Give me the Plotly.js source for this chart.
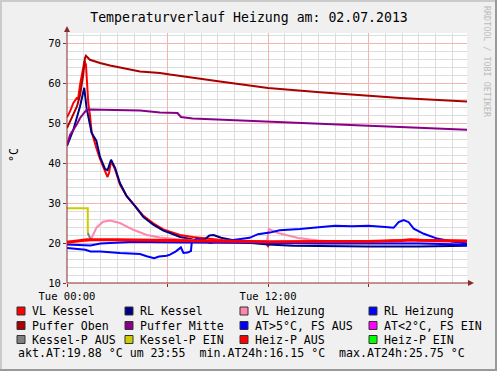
<!DOCTYPE html>
<html>
<head>
<meta charset="utf-8">
<script src="https://cdn.plot.ly/plotly-3.0.1.min.js"></script>
<style>html,body{margin:0;padding:0;background:#F0F0F0;}#chart{width:497px;height:371px;}</style>
</head>
<body>
<div id="chart"></div>
<script>
// ---- data (hours since Tue 00:00, °C) ----
const vlKesselH = [0, 0.18, 0.38, 0.58, 0.66, 0.78, 0.97, 1.04, 1.13, 1.22, 1.27, 1.37, 1.47, 1.77, 1.97, 2.27, 2.42, 2.51, 2.63, 2.87, 3.16, 3.56, 4.06, 4.56, 5.15, 5.75, 6.15, 6.75, 7.5, 8.5, 9.5, 11, 11.9, 12.0, 12.1, 13, 15, 18, 20, 21, 22, 23.88];
const vlKesselT = [51.4, 52.9, 55, 56.2, 56, 59.6, 63.8, 65.5, 64.6, 59, 55, 52, 47.8, 43.5, 41, 38, 36.5, 37.5, 40.5, 38.4, 34.6, 31.8, 29.3, 26.8, 24.9, 23.4, 22.8, 22, 21.5, 21, 20.6, 20.1, 19.8, 19.2, 19.9, 20.2, 20.3, 20.4, 20.7, 20.8, 20.6, 20.5];

const rlKesselH = [0, 0.38, 0.78, 1.03, 1.17, 1.47, 1.75, 1.97, 2.27, 2.42, 2.63, 2.87, 3.16, 3.56, 4.06, 4.56, 5.15, 5.75, 6.15, 6.75, 7.5, 8.2, 8.5, 8.75, 9.2, 10, 11, 12, 13.5, 15, 18, 21, 23.88];
const rlKesselT = [44.3, 48.3, 54.2, 58.8, 53.7, 47.5, 45.6, 41.5, 38.5, 38.2, 40.8, 38.8, 35, 31.7, 29.2, 26.5, 24.6, 23.1, 22.5, 21.5, 20.9, 20.8, 21.9, 22, 21.3, 20.6, 20, 19.6, 19.3, 19.2, 19.15, 19.15, 19.3];

const vlHeizungH = [0, 1.2, 1.4, 1.47, 1.77, 2.16, 2.57, 3.16, 3.96, 4.76, 5.55, 6.75, 8, 10, 11.95, 12.05, 12.6, 13.8, 15, 16, 18, 21, 23.88];
const vlHeizungT = [20.4, 20.5, 20.8, 21.25, 23.9, 25.3, 25.6, 25, 23.3, 22, 21.4, 20.9, 20.6, 20.5, 20.5, 23.5, 22.5, 21.25, 20.6, 20.4, 20.3, 20.4, 20.3];

const rlHeizungH = [0, 0.8, 1.4, 2, 4, 6, 8, 12, 15, 18, 21, 23, 23.88];
const rlHeizungT = [19.6, 19.4, 19.4, 19.9, 20.3, 20.2, 20.1, 20.0, 19.9, 19.9, 19.9, 19.7, 19.5];

const pufferObenH = [0, 0.6, 0.78, 0.97, 1.07, 1.13, 1.37, 1.97, 2.57, 4.36, 5.55, 6.15, 9.13, 12, 15.1, 16.3, 18, 19.9, 23.88];
const pufferObenT = [48.7, 54.2, 57, 62.1, 66.2, 66.8, 65.8, 65, 64.4, 62.9, 62.5, 62.1, 60.4, 58.75, 57.7, 57.3, 56.9, 56.25, 55.4];

const pufferMitteH = [0, 0.18, 0.58, 0.78, 1.17, 1.37, 4.36, 5.55, 6.6, 6.8, 7.5, 12, 15.1, 16.3, 18, 19.9, 23.88];
const pufferMitteT = [44.4, 47, 49.6, 51.25, 53.3, 53.4, 53.1, 52.65, 52.5, 51.5, 51.1, 50.25, 49.8, 49.6, 49.3, 49, 48.3];

const atH = [0, 0.5, 1.1, 1.4, 2, 3.16, 4.36, 4.76, 5.2, 5.5, 5.95, 6.15, 6.5, 6.8, 6.95, 7.2, 7.4, 7.45, 7.75, 8.2, 8.55, 8.95, 9.7, 10.9, 11.4, 12.1, 12.7, 13.9, 15, 16, 17, 18, 19, 19.5, 19.8, 20.1, 20.4, 20.7, 21.3, 22.1, 23, 23.88];
const atT = [18.75, 18.6, 18.3, 17.9, 17.9, 17.5, 17.25, 16.7, 16.2, 16.6, 16.8, 17.1, 17.9, 18.9, 17.5, 17.6, 18.0, 20.2, 21.1, 20.6, 20.0, 20.4, 20.6, 21.3, 22.2, 22.6, 23.2, 23.5, 23.9, 24.3, 24.2, 24.3, 24.0, 23.8, 25.2, 25.75, 25.2, 23.6, 22.3, 21.1, 20.4, 19.88];

const kesselPEinH = [0, 1.24, 1.24];
const kesselPEinT = [28.7, 28.7, 22.5];
const kesselPAusH = [1.24, 1.4, 1.5];
const kesselPAusT = [22.5, 21.0, 20.6];

const heizPAusH = [0, 0.5, 1.2, 3, 6, 9, 12, 15, 18, 20, 20.5, 21, 23.88];
const heizPAusT = [20.2, 20.4, 20.8, 20.8, 20.6, 20.4, 20.3, 20.4, 20.4, 20.6, 20.8, 20.7, 20.5];

const legendLabels = ["VL Kessel", "RL Kessel", "VL Heizung", "RL Heizung",
                      "Puffer Oben", "Puffer Mitte", "AT>5°C, FS AUS", "AT<2°C, FS EIN",
                      "Kessel-P AUS", "Kessel-P EIN", "Heiz-P AUS", "Heiz-P EIN"];
const legendColors = ["#FF0000", "#000080", "#FF88AA", "#0000FF",
                      "#AA0000", "#880088", "#0000FF", "#FF00FF",
                      "#808080", "#CCCC00", "#FF0000", "#00FF00"];
const statsText = "akt.AT:19.88 °C um 23:55  min.AT24h:16.15 °C  max.AT24h:25.75 °C";
const xTickVals = [0, 6, 12, 18];
const xTickText = ["Tue 00:00", "", "Tue 12:00", ""];

// ---- geometry helpers (pixel -> paper) ----
const L = 67, R = 30, T = 33, B = 88, W = 497, H = 371;
const PW = W - L - R, PH = H - T - B;
const px = v => (v - L) / PW;
const py = v => (H - B - v) / PH;
const mono = "DejaVu Sans Mono, monospace";
const axisColor = "#8B2A2A";

function tr(x, y, color, width) {
  return {x: x, y: y, type: "scatter", mode: "lines", line: {color: color, width: width || 2}, hoverinfo: "skip", showlegend: false};
}
const data = [
  tr(vlKesselH, vlKesselT, "#FF0000", 2),
  tr(rlKesselH, rlKesselT, "#000080", 2),
  tr(vlHeizungH, vlHeizungT, "#FF88AA", 2),
  tr(rlHeizungH, rlHeizungT, "#0000FF", 2),
  tr(pufferObenH, pufferObenT, "#AA0000", 2),
  tr(pufferMitteH, pufferMitteT, "#880088", 2),
  tr(atH, atT, "#0000FF", 2),
  tr(kesselPEinH, kesselPEinT, "#CCCC00", 2),
  tr(kesselPAusH, kesselPAusT, "#808080", 2),
  tr(heizPAusH, heizPAusT, "#FF0000", 3)
];

const shapes = [];
const annotations = [];
// frame borders
shapes.push({type: "rect", xref: "paper", yref: "paper", x0: px(0), x1: px(2), y0: py(0), y1: py(371), fillcolor: "#CBCBCB", line: {width: 0}, layer: "below"});
shapes.push({type: "rect", xref: "paper", yref: "paper", x0: px(0), x1: px(497), y0: py(0), y1: py(2), fillcolor: "#CBCBCB", line: {width: 0}, layer: "below"});
shapes.push({type: "rect", xref: "paper", yref: "paper", x0: px(495), x1: px(497), y0: py(0), y1: py(371), fillcolor: "#999999", line: {width: 0}});
shapes.push({type: "rect", xref: "paper", yref: "paper", x0: px(0), x1: px(497), y0: py(369), y1: py(371), fillcolor: "#999999", line: {width: 0}});
// axis extensions with arrows
shapes.push({type: "line", xref: "paper", yref: "paper", x0: px(67), x1: px(67), y0: py(283), y1: py(30), line: {color: axisColor, width: 1}});
shapes.push({type: "path", xref: "paper", yref: "paper", path: `M ${px(64)} ${py(32)} L ${px(70)} ${py(32)} L ${px(67)} ${py(26)} Z`, fillcolor: axisColor, line: {color: axisColor, width: 0}});
shapes.push({type: "line", xref: "paper", yref: "paper", x0: px(67), x1: px(470), y0: py(283), y1: py(283), line: {color: axisColor, width: 1}});
shapes.push({type: "path", xref: "paper", yref: "paper", path: `M ${px(468)} ${py(280)} L ${px(468)} ${py(286)} L ${px(474)} ${py(283)} Z`, fillcolor: axisColor, line: {color: axisColor, width: 0}});

// legend
const colBox = [17, 125, 240, 369];
const rowY = [311, 325.5, 339.5];
legendLabels.forEach((lab, i) => {
  const c = i % 4, r = Math.floor(i / 4);
  const bx = colBox[c], by = rowY[r];
  shapes.push({type: "rect", xref: "paper", yref: "paper", x0: px(bx), x1: px(bx + 8), y0: py(by - 4), y1: py(by + 4),
    fillcolor: legendColors[i], line: {color: "#333333", width: 1}});
  annotations.push({text: lab, xref: "paper", yref: "paper", x: px(bx + 13), y: py(by), xanchor: "left", yanchor: "middle",
    showarrow: false, font: {family: mono, size: 11.6, color: "#000000"}});
});
annotations.push({text: statsText, xref: "paper", yref: "paper", x: px(16), y: py(353), xanchor: "left", yanchor: "middle",
  showarrow: false, font: {family: mono, size: 11.6, color: "#000000"}});
// y unit label
annotations.push({text: "°C", xref: "paper", yref: "paper", x: px(14), y: py(155), xanchor: "center", yanchor: "middle",
  textangle: -90, showarrow: false, font: {family: mono, size: 11.6, color: "#000000"}});
// watermark
annotations.push({text: "RRDTOOL / TOBI OETIKER", xref: "paper", yref: "paper", x: px(487), y: py(62), xanchor: "center", yanchor: "middle",
  textangle: 90, showarrow: false, font: {family: mono, size: 8.4, color: "#BBBBBB"}});

const layout = {
  width: W, height: H,
  margin: {l: L, r: R, t: T, b: B, pad: 0},
  paper_bgcolor: "#F0F0F0",
  plot_bgcolor: "#FFFFFF",
  showlegend: false,
  title: {text: "Temperaturverlauf Heizung am: 02.07.2013", x: 249 / W, xanchor: "center", y: 1 - 17 / H, yanchor: "middle",
    font: {family: mono, size: 13.2, color: "#000000"}},
  xaxis: {
    range: [0, 23.88], tickmode: "array", tickvals: xTickVals, ticktext: xTickText,
    showgrid: true, gridcolor: "#F3B3B3", gridwidth: 1,
    minor: {dtick: 1, tick0: 0, showgrid: true, gridcolor: "#DDDDDD", gridwidth: 1},
    zeroline: false, showline: false, ticks: "outside", ticklen: 3, tickcolor: axisColor,
    tickfont: {family: mono, size: 10.5, color: "#000000"}, fixedrange: true
  },
  yaxis: {
    range: [10, 72.5], tickmode: "linear", tick0: 10, dtick: 10,
    showgrid: true, gridcolor: "#F3B3B3", gridwidth: 1,
    minor: {dtick: 2, tick0: 10, showgrid: true, gridcolor: "#DDDDDD", gridwidth: 1},
    zeroline: false, showline: false, ticks: "outside", ticklen: 3, tickcolor: axisColor,
    tickfont: {family: mono, size: 10.5, color: "#000000"}, fixedrange: true
  },
  shapes: shapes,
  annotations: annotations
};
Plotly.newPlot("chart", data, layout, {staticPlot: true, displayModeBar: false});
</script>
</body>
</html>
